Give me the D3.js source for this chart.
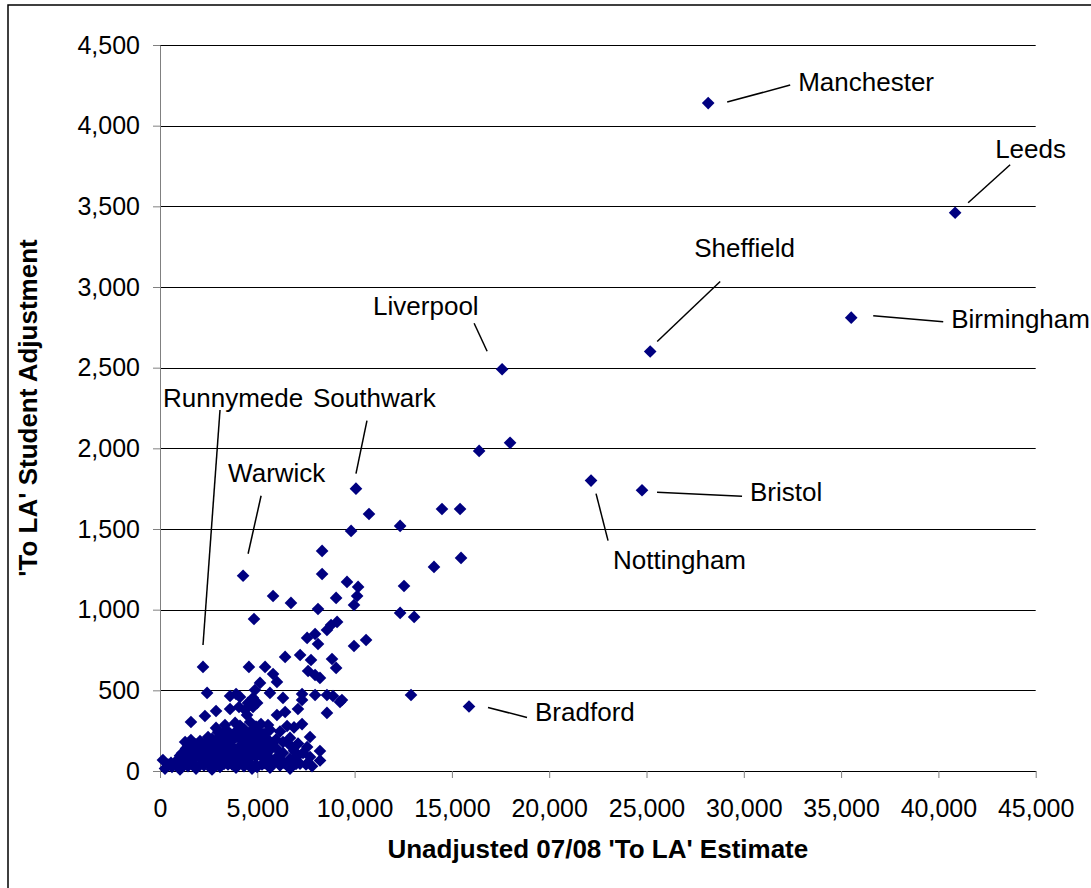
<!DOCTYPE html>
<html>
<head>
<meta charset="utf-8">
<script src="https://cdn.jsdelivr.net/npm/d3@7"></script>
<style>
  body { margin: 0; background: #fff; }
  text { font-family: "Liberation Sans", Arial, sans-serif; }
</style>
</head>
<body>
<div id="chart-container"></div>
<script>
// Unlabelled authorities: unadjusted estimate (x) and student adjustment (y)
const xValues = [
  17990, 16400, 10740, 9820, 12340, 14490, 15420, 15470, 14080, 12540,
  12340, 13060, 12900, 10180, 9610, 10130, 9970, 10590, 9970, 8330,
  8330, 8120, 9050, 5810, 6730, 4830, 9100, 8790, 8580, 7970,
  7560, 8120, 6430, 7200, 7760, 8840, 9050, 7610, 7970, 8220,
  4570, 5400, 5810, 6010, 5140, 4880, 4780, 5650, 6320, 7300,
  7300, 7090, 7970, 8580, 8890, 9350, 8580, 2420, 3600, 3910,
  4110, 4780, 2880, 3600, 4370, 4470, 2310, 1590, 150, 4990,
  9250, 6010, 6430, 5190, 6530, 7300, 4630, 5400, 5760, 6320,
  6680, 7710, 7560, 7350, 7710, 8220, 6320, 6010, 4990, 4060,
  4520, 3340, 3860, 2880, 2470, 2110, 1590, 1290, 565,
  257, 617, 1028, 1439, 1850, 2262, 2673, 3084, 3495, 3906,
  4318, 4729, 5243, 5654, 6168, 6682, 7196, 7812,
  411, 822, 1234, 1645, 2056, 2467, 2878, 3290, 3701, 4112,
  4523, 4934, 5346, 5757, 6374, 6990, 7504,
  822, 1234, 1645, 2056, 2467, 2878, 3290, 3701, 4112, 4523,
  4934, 5448, 5860, 6682, 7093, 8224,
  1028, 1439, 1850, 2262, 2673, 3084, 3495, 3906, 4318, 4729,
  5140, 5551, 6168,
  1131, 1542, 1953, 2364, 2776, 3187, 3598, 4009, 4420, 4832,
  5243, 5654, 6888,
  1336, 1748, 2159, 2570, 2981, 3392, 3804, 4215, 4626, 5037,
  5448, 5962,
  1439, 1850, 2262, 2673, 3084, 3598, 4112, 4523, 4934, 5346,
  6682, 7093,
  2056, 2467, 2878, 3290, 3701, 4215, 4626, 5140, 5551,
  2673, 3084, 3495, 3906, 4318, 4729, 5037, 5962,
  3187, 3598, 4112, 4523, 4934, 5346,
  2981, 3392, 3906, 4318, 4729, 5140, 5654, 6168,
  4112, 4934, 5551, 6888
];
const yValues = [
  2034, 1984, 1593, 1488, 1519, 1624, 1624, 1321, 1265, 1147,
  980, 955, 471, 1141, 1172, 1085, 1029, 812, 775, 1364,
  1221, 1004, 1073, 1085, 1042, 942, 924, 905, 874, 849,
  825, 787, 707, 719, 688, 694, 639, 620, 595, 577,
  645, 645, 601, 552, 546, 502, 453, 484, 453, 477,
  440, 384, 471, 471, 465, 440, 360, 484, 465, 477,
  459, 397, 372, 384, 378, 347, 341, 304, 68, 422,
  428, 347, 366, 291, 279, 291, 304, 211, 174, 180,
  205, 211, 149, 112, 87, 124, 112, 87, 25, 397,
  422, 285, 298, 267, 211, 174, 192, 180, 50,
  15, 25, 10, 30, 15, 35, 10, 25, 40, 20,
  30, 15, 40, 20, 35, 15, 45, 30,
  40, 48, 42, 50, 38, 46, 52, 44, 40, 50,
  45, 38, 48, 42, 50, 44, 40,
  60, 75, 65, 80, 70, 55, 85, 65, 80, 60,
  90, 70, 60, 75, 95, 65,
  95, 90, 100, 92, 98, 88, 96, 102, 90, 94,
  100, 92, 96,
  110, 125, 105, 130, 115, 120, 135, 110, 125, 140,
  115, 130, 125,
  140, 145, 138, 150, 142, 146, 140, 148, 144, 138,
  150, 142,
  155, 165, 150, 170, 160, 175, 155, 165, 180, 150,
  160, 170,
  185, 190, 182, 188, 195, 186, 190, 184, 192,
  200, 215, 195, 210, 220, 200, 215, 195,
  228, 232, 225, 235, 228, 230,
  240, 255, 245, 260, 250, 240, 255, 245,
  280, 275, 285, 270
];

// Named authorities
const labelNames = ["Manchester", "Leeds", "Birmingham", "Sheffield", "Liverpool",
  "Bristol", "Nottingham", "Bradford", "Southwark", "Warwick", "Runnymede"];
const labelX = [28170, 40860, 35520, 25190, 17580, 24770, 22150, 15880, 10070, 4270, 2210];
const labelY = [4140, 3460, 2810, 2600, 2490, 1740, 1800, 400, 1750, 1210, 645];

const xTicks = [0, 5000, 10000, 15000, 20000, 25000, 30000, 35000, 40000, 45000];
const yTicks = [0, 500, 1000, 1500, 2000, 2500, 3000, 3500, 4000, 4500];

// callout placement (pixel offsets from the marker): text anchor, leader line
const callouts = {
  Manchester: { tx: 90, ty: -12, l: [19, -1, 82, -18] },
  Leeds: { tx: 40, ty: -55, l: [13, -10, 55, -48] },
  Birmingham: { tx: 100, ty: 10, l: [22, -2, 92, 4] },
  Sheffield: { tx: 44, ty: -95, l: [7, -10, 70, -70] },
  Liverpool: { tx: -129, ty: -54, l: [-28, -46, -15, -18] },
  Bristol: { tx: 108, ty: 11, l: [15, 2, 100, 6] },
  Nottingham: { tx: 22, ty: 88, l: [5, 13, 17, 60] },
  Bradford: { tx: 66, ty: 15, l: [19, 1, 58, 11] },
  Southwark: { tx: -43, ty: -82, l: [11, -68, 0, -15] },
  Warwick: { tx: -15, ty: -94, l: [18, -80, 5, -22] },
  Runnymede: { tx: -40, ty: -260, l: [17, -257, 0, -22] }
};

const width = 1091;
const height = 888;
const plot = { left: 160, right: 1035.7, top: 45, bottom: 771 };

const x = d3.scaleLinear().domain([0, 45000]).range([plot.left, plot.right]);
const y = d3.scaleLinear().domain([0, 4500]).range([plot.bottom, plot.top]);

const svg = d3.create("svg")
  .attr("width", width)
  .attr("height", height);
document.getElementById("chart-container").appendChild(svg.node());

// outer chart frame (runs off the right and bottom edge)
svg.append("rect")
  .attr("x", 8).attr("y", 5)
  .attr("width", 1100).attr("height", 900)
  .attr("fill", "none").attr("stroke", "#000").attr("stroke-width", 1.5);

// horizontal gridlines
svg.append("g")
  .selectAll("line")
  .data(yTicks)
  .join("line")
  .attr("x1", plot.left).attr("x2", plot.right)
  .attr("y1", (d) => Math.round(y(d)) + 0.5)
  .attr("y2", (d) => Math.round(y(d)) + 0.5)
  .attr("stroke", "#000").attr("stroke-width", 1);

// y axis
const yAxis = svg.append("g")
  .attr("transform", `translate(${plot.left},0)`)
  .call(d3.axisLeft(y).tickValues(yTicks).tickFormat(d3.format(","))
    .tickSize(7).tickSizeOuter(0).tickPadding(13));
yAxis.select(".domain").attr("stroke", "#808080");
yAxis.selectAll(".tick line").attr("stroke", "#808080");
yAxis.selectAll("text")
  .attr("fill", "#000")
  .style("font-size", "25px");

// x axis
const xAxis = svg.append("g")
  .attr("transform", `translate(0,${plot.bottom})`)
  .call(d3.axisBottom(x).tickValues(xTicks).tickFormat(d3.format(","))
    .tickSize(7).tickSizeOuter(0).tickPadding(21));
xAxis.select(".domain").attr("stroke", "#000");
xAxis.selectAll(".tick line").attr("stroke", "#808080");
xAxis.selectAll("text")
  .attr("fill", "#000")
  .style("font-size", "25px");

// axis titles
svg.append("text")
  .attr("x", (plot.left + plot.right) / 2)
  .attr("y", 858)
  .attr("text-anchor", "middle")
  .style("font-size", "26px")
  .style("font-weight", "bold")
  .text("Unadjusted 07/08 'To LA' Estimate");

svg.append("text")
  .attr("transform", `translate(37,${(plot.top + plot.bottom) / 2}) rotate(-90)`)
  .attr("text-anchor", "middle")
  .style("font-size", "26px")
  .style("font-weight", "bold")
  .text("'To LA' Student Adjustment");

// markers
const points = xValues.map((v, i) => ({ x: v, y: yValues[i] }))
  .concat(labelNames.map((n, i) => ({ x: labelX[i], y: labelY[i], name: n })));

const diamond = d3.symbol(d3.symbolSquare, 80);
svg.append("g")
  .selectAll("path")
  .data(points)
  .join("path")
  .attr("d", diamond)
  .attr("transform", (d) => `translate(${x(d.x)},${y(d.y)}) rotate(45)`)
  .attr("fill", "#000080");

// callouts
const named = points.filter((d) => d.name);
const callG = svg.append("g").selectAll("g")
  .data(named)
  .join("g")
  .attr("transform", (d) => `translate(${x(d.x)},${y(d.y)})`);

callG.append("line")
  .attr("x1", (d) => callouts[d.name].l[0])
  .attr("y1", (d) => callouts[d.name].l[1])
  .attr("x2", (d) => callouts[d.name].l[2])
  .attr("y2", (d) => callouts[d.name].l[3])
  .attr("stroke", "#000").attr("stroke-width", 1.5);

callG.append("text")
  .attr("x", (d) => callouts[d.name].tx)
  .attr("y", (d) => callouts[d.name].ty)
  .style("font-size", "26px")
  .text((d) => d.name);
</script>
</body>
</html>
